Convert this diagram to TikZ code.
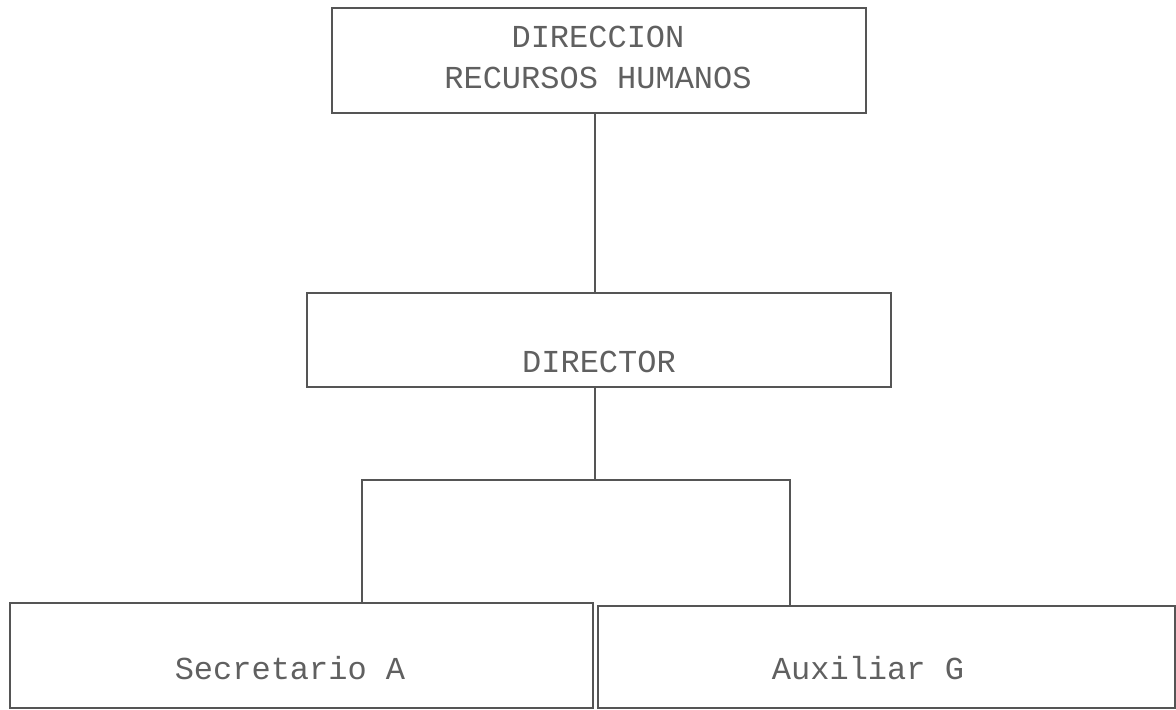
\documentclass[tikz,border=0pt]{standalone}
\usepackage{fontspec}
\setmonofont{Liberation Mono}
\usetikzlibrary{positioning,calc}
\definecolor{ink}{HTML}{555555}
\definecolor{txt}{HTML}{606060}
\tikzset{box/.style={rectangle,draw=ink,line width=1pt,inner sep=0pt},
  lbl/.style={inner sep=0pt,text=txt,font=\ttfamily\fontsize{16}{20.5}\selectfont,align=center},
  wire/.style={draw=ink,line width=1pt}}
\begin{document}
\begin{tikzpicture}[x=0.5pt,y=-0.5pt]
  \useasboundingbox (0,0) rectangle (1176,709);
  \node[box,minimum width=267pt,minimum height=52.5pt] (top) at (599,60.5) {};
  \node[box,minimum width=292pt,minimum height=47pt] (dir) at (599,340) {};
  \node[box,minimum width=291.5pt,minimum height=52.5pt] (sec) at (301.5,655.5) {};
  \node[box,minimum width=288.5pt,minimum height=51pt] (aux) at (886.5,657) {};
  \node[lbl] (ttop) at (598,57) {DIRECCION\\RECURSOS HUMANOS};
  \node[lbl] (tdir) at (599,362) {DIRECTOR};
  \node[lbl] (tsec) at (290,668) {Secretario A};
  \node[lbl] (taux) at (868,668) {Auxiliar G};
  \coordinate (fork) at (595,480);
  \coordinate (bl) at (362,480);\coordinate (br) at (790,480);
  \draw[wire] (top.south -| fork) -- (dir.north -| fork)
    (dir.south -| fork) -- (fork);
  \draw[wire] (bl |- sec.north) -- (bl) -- (br) -- (br |- aux.north);
\end{tikzpicture}
\end{document}
